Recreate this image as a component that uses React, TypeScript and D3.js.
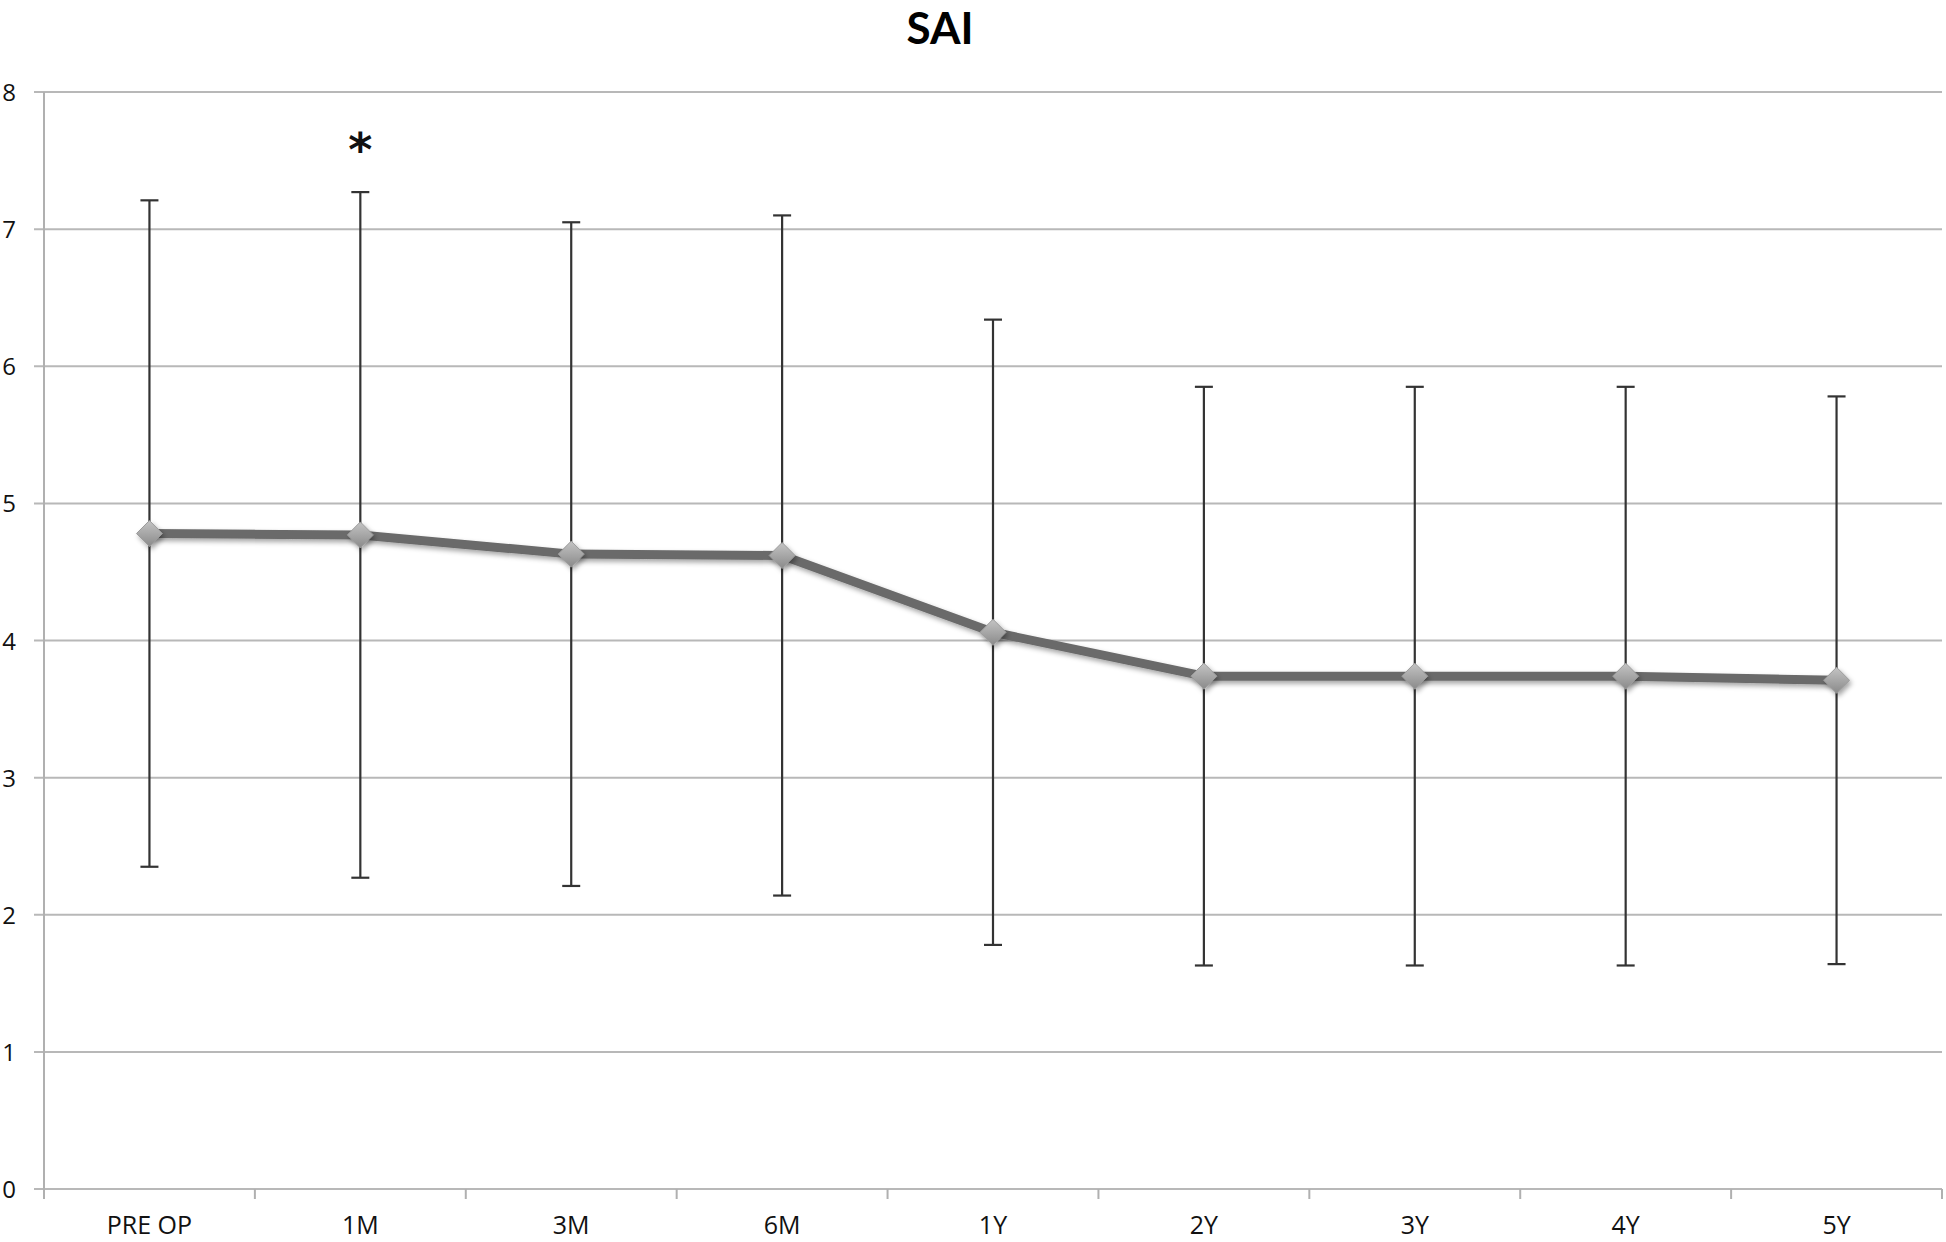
import React, { useEffect, useRef } from 'react'
import { select, scaleBand, scaleLinear, line, range } from 'd3'

const categories = ['PRE OP', '1M', '3M', '6M', '1Y', '2Y', '3Y', '4Y', '5Y']
const means = [4.78, 4.77, 4.63, 4.62, 4.06, 3.74, 3.74, 3.74, 3.71]
const sd = [2.43, 2.5, 2.42, 2.48, 2.28, 2.11, 2.11, 2.11, 2.07]
const yTicks = [0, 1, 2, 3, 4, 5, 6, 7, 8]
const starred = ['1M']

const W = 1946
const H = 1242

const App = () => {
  const svgRef = useRef<SVGSVGElement>(null)

  useEffect(() => {
    const svg = select(svgRef.current)
    svg.selectAll('*').remove()

    const left = 44
    const right = 1942
    const top = 92
    const bottom = 1189

    const x = scaleBand().domain(categories).range([left, right])
    const y = scaleLinear().domain([0, 8]).range([bottom, top])

    const defs = svg.append('defs')
    const grad = defs.append('linearGradient')
      .attr('id', 'mk').attr('x1', 0).attr('y1', 0).attr('x2', 0).attr('y2', 1)
    grad.append('stop').attr('offset', '0%').attr('stop-color', '#c4c4c4')
    grad.append('stop').attr('offset', '100%').attr('stop-color', '#8a8a8a')
    const flt = defs.append('filter').attr('id', 'sh').attr('x', '-50%').attr('y', '-50%').attr('width', '200%').attr('height', '200%')
    flt.append('feDropShadow').attr('dx', 2).attr('dy', 3).attr('stdDeviation', 2.5).attr('flood-color', '#000').attr('flood-opacity', 0.35)

    // gridlines + y ticks
    svg.append('g')
      .selectAll('line')
      .data(yTicks)
      .join('line')
      .attr('x1', left - 10)
      .attr('x2', right)
      .attr('y1', d => y(d))
      .attr('y2', d => y(d))
      .attr('stroke', '#b8b8b8')
      .attr('stroke-width', 2)

    svg.append('g')
      .selectAll('text')
      .data(yTicks)
      .join('text')
      .attr('x', 16)
      .attr('y', d => y(d) + 9)
      .attr('text-anchor', 'end')
      .attr('font-family', 'Open Sans, sans-serif')
      .attr('font-size', 24)
      .attr('fill', '#111')
      .text(d => d)

    // axes
    svg.append('line')
      .attr('x1', left).attr('x2', left).attr('y1', top).attr('y2', bottom + 10)
      .attr('stroke', '#b0b0b0').attr('stroke-width', 2)

    svg.append('g')
      .selectAll('line')
      .data(range(categories.length + 1))
      .join('line')
      .attr('x1', i => left + i * x.step())
      .attr('x2', i => left + i * x.step())
      .attr('y1', bottom)
      .attr('y2', bottom + 10)
      .attr('stroke', '#b0b0b0')
      .attr('stroke-width', 2)

    svg.append('g')
      .selectAll('text')
      .data(categories)
      .join('text')
      .attr('x', d => x(d)! + x.bandwidth() / 2)
      .attr('y', 1234)
      .attr('text-anchor', 'middle')
      .attr('font-family', 'Open Sans, sans-serif')
      .attr('font-size', 25)
      .attr('fill', '#111')
      .text(d => d)

    // error bars
    const eb = svg.append('g').attr('stroke', '#333').attr('stroke-width', 2.2)
    categories.forEach((c, i) => {
      const cx = x(c)! + x.bandwidth() / 2
      const hi = y(means[i] + sd[i])
      const lo = y(means[i] - sd[i])
      eb.append('line').attr('x1', cx).attr('x2', cx).attr('y1', hi).attr('y2', lo)
      eb.append('line').attr('x1', cx - 9).attr('x2', cx + 9).attr('y1', hi).attr('y2', hi)
      eb.append('line').attr('x1', cx - 9).attr('x2', cx + 9).attr('y1', lo).attr('y2', lo)
    })

    // mean line
    const meanLine = line<number>()
      .x((d, i) => x(categories[i])! + x.bandwidth() / 2)
      .y(d => y(d))

    svg.append('path')
      .datum(means)
      .attr('d', meanLine)
      .attr('fill', 'none')
      .attr('stroke', '#6a6a6a')
      .attr('stroke-width', 9)
      .attr('stroke-linejoin', 'round')
      .attr('filter', 'url(#sh)')

    svg.append('g')
      .selectAll('path')
      .data(means)
      .join('path')
      .attr('transform', (d, i) => `translate(${x(categories[i])! + x.bandwidth() / 2},${y(d)})`)
      .attr('d', 'M0,-13L13,0L0,13L-13,0Z')
      .attr('fill', 'url(#mk)')
      .attr('stroke', '#9a9a9a')
      .attr('stroke-width', 1)
      .attr('filter', 'url(#sh)')

    // significance marker
    svg.append('g')
      .selectAll('text')
      .data(starred)
      .join('text')
      .attr('x', d => x(d)! + x.bandwidth() / 2)
      .attr('y', 166)
      .attr('text-anchor', 'middle')
      .attr('font-family', 'DejaVu Sans, sans-serif')
      .attr('font-weight', 'bold')
      .attr('font-size', 46)
      .attr('fill', '#111')
      .text('*')

    svg.append('text')
      .attr('x', 940)
      .attr('y', 44)
      .attr('text-anchor', 'middle')
      .attr('font-family', 'Lato, sans-serif')
      .attr('font-weight', 'bold')
      .attr('font-size', 44)
      .attr('fill', '#000')
      .text('SAI')
  }, [])

  return (
    <svg
      ref={svgRef}
      width={W}
      height={H}
      style={{ position: 'absolute', left: 0, top: 0, background: '#fff' }}
    />
  )
}

export default App
